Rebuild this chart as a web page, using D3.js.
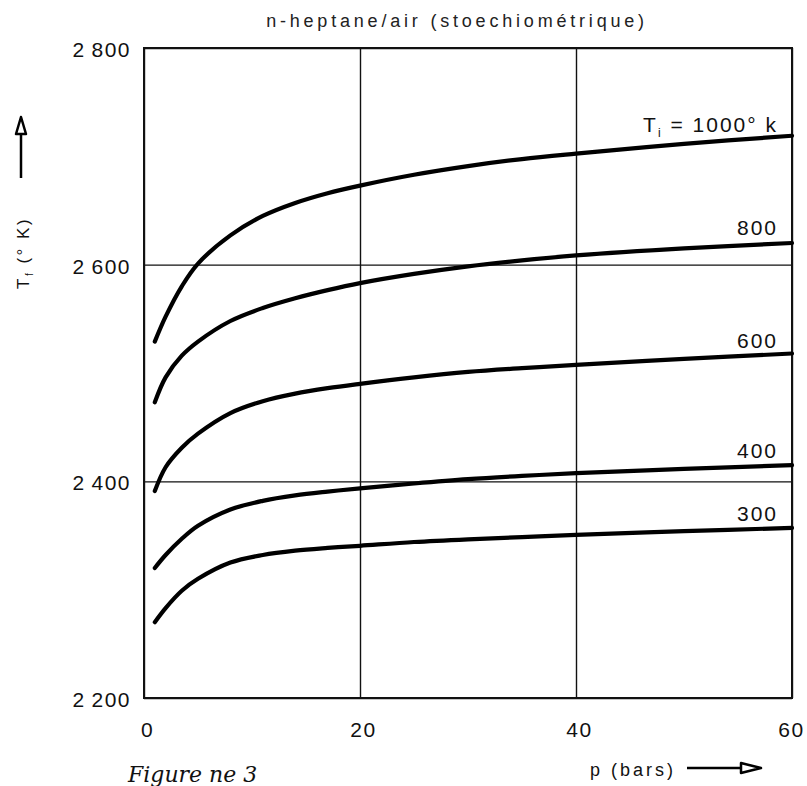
<!DOCTYPE html>
<html>
<head>
<meta charset="utf-8">
<script src="https://cdn.jsdelivr.net/npm/d3@7"></script>
<style>
  body { margin: 0; background: #fff; }
  svg { display: block; font-family: "Liberation Sans", Arial, sans-serif; }
</style>
</head>
<body>
<svg id="svg" width="807" height="786"></svg>
<script>
// pressure in bars
var pressure = [1, 2, 3.5, 5, 8, 11, 14, 17, 20, 25, 30, 35, 40, 50, 60];

// flame temperature Tf (K) for each initial temperature Ti
var tf1000 = [2529, 2552, 2580, 2601, 2627, 2645, 2657, 2666, 2673, 2683, 2691, 2697.5, 2702.5, 2711.5, 2719];
var tf800  = [2473, 2496, 2516, 2529, 2548, 2560, 2569, 2576.5, 2583, 2591.5, 2598.5, 2604, 2608.5, 2615, 2620];
var tf600  = [2391, 2413, 2431, 2444, 2463, 2474, 2481, 2486, 2490, 2496, 2501, 2504.5, 2507.5, 2513, 2518];
var tf400  = [2320, 2332, 2347, 2359, 2374, 2382, 2387, 2390.5, 2393.5, 2398, 2402, 2405, 2407.5, 2411.5, 2415];
var tf300  = [2270, 2283, 2299, 2310, 2325, 2332, 2336, 2338.5, 2340.5, 2344, 2346.5, 2348.5, 2350.5, 2354, 2357];

var curveLabels = ["1000", "800", "600", "400", "300"];
var xTicks = [0, 20, 40, 60];
var yTicks = [2200, 2400, 2600, 2800];

var series = [tf1000, tf800, tf600, tf400, tf300];
var labelLift = [4, 8, 6, 7, 7];

var svg = d3.select("#svg");
var padding = {top: 48, right: 15, bottom: 88, left: 144};
var width = 807 - padding.left - padding.right;
var height = 786 - padding.top - padding.bottom;

var xScale = d3.scaleLinear().domain([0, 60]).range([0, width]);
var yScale = d3.scaleLinear().domain([2200, 2800]).range([height, 0]);

var g = svg.append("g")
    .attr("transform", "translate(" + padding.left + "," + padding.top + ")");

// tick labels written "2 800"
var fmt = d3.formatLocale({decimal: ",", thousands: "\u2009", grouping: [3], currency: ["", ""]}).format(",");

//vertical grid + x labels
var xAxis = g.append("g")
    .attr("transform", "translate(0," + height + ")")
    .call(d3.axisBottom(xScale).tickValues(xTicks).tickSize(-height).tickPadding(24).tickFormat(d3.format("d")));
xAxis.select(".domain").remove();
xAxis.selectAll("line").attr("stroke", "#111").attr("stroke-width", 1.4);
xAxis.selectAll("text")
    .attr("font-size", 21).attr("letter-spacing", 1.5).attr("dx", function(d) { return d === 60 ? -1 : 3; })
    .attr("fill", "#111").attr("font-family", "Liberation Sans, Arial, sans-serif");

//horizontal grid + y labels
var yAxis = g.append("g")
    .call(d3.axisLeft(yScale).tickValues(yTicks).tickSize(-width).tickPadding(13).tickFormat(fmt));
yAxis.select(".domain").remove();
yAxis.selectAll("line").attr("stroke", "#111").attr("stroke-width", 1.4);
yAxis.selectAll("text")
    .attr("font-size", 21).attr("letter-spacing", 1.5).attr("dy", "0.4em")
    .attr("fill", "#111").attr("font-family", "Liberation Sans, Arial, sans-serif");

// frame
g.append("rect")
    .attr("x", 0).attr("y", 0).attr("width", width).attr("height", height)
    .attr("fill", "none").attr("stroke", "#111").attr("stroke-width", 2);

// curves
var line = d3.line()
    .x(function(d, i) { return xScale(pressure[i]); })
    .y(function(d) { return yScale(d); })
    .curve(d3.curveCatmullRom.alpha(0.5));

g.selectAll("path.curve").data(series).enter()
    .append("path")
    .attr("class", "curve")
    .attr("d", line)
    .attr("fill", "none")
    .attr("stroke", "#000")
    .attr("stroke-width", 4.2)
    .attr("stroke-linecap", "round");

// curve labels
series.forEach(function(s, k) {
    var t = g.append("text")
        .attr("x", xScale(60) - 14)
        .attr("y", yScale(s[s.length - 1]) - labelLift[k])
        .attr("text-anchor", "end")
        .attr("font-size", 21)
        .attr("letter-spacing", 2)
        .attr("fill", "#111");
    if (k === 0) {
        t.append("tspan").text("T");
        t.append("tspan").attr("font-size", 12).attr("dy", 5).text("i");
        t.append("tspan").attr("dy", -5).text(" = " + curveLabels[k] + "\u00b0 k");
    } else {
        t.text(curveLabels[k]);
    }
});

// title
svg.append("text")
    .attr("x", 457).attr("y", 27)
    .attr("text-anchor", "middle")
    .attr("font-size", 18).attr("letter-spacing", 3.8)
    .attr("fill", "#222")
    .text("n-heptane/air (stoechiométrique)");

// y axis title + arrow
var yt = svg.append("text")
    .attr("transform", "translate(29,289) rotate(-90)")
    .attr("font-size", 17).attr("letter-spacing", 2.5)
    .attr("fill", "#111");
yt.append("tspan").text("T");
yt.append("tspan").attr("font-size", 10).attr("dy", 4).text("f");
yt.append("tspan").attr("dy", -4).text(" (\u00b0 K)");

svg.append("line").attr("x1", 21).attr("x2", 21).attr("y1", 178).attr("y2", 132)
    .attr("stroke", "#000").attr("stroke-width", 2.5);
svg.append("path").attr("d", "M21,117 L16,134 L26,134 Z")
    .attr("fill", "#fff").attr("stroke", "#000").attr("stroke-width", 2.5).attr("stroke-linejoin", "round");

// x axis title + arrow
svg.append("text")
    .attr("x", 590).attr("y", 776)
    .attr("font-size", 18).attr("letter-spacing", 3)
    .attr("fill", "#111")
    .text("p (bars)");
svg.append("line").attr("x1", 687).attr("x2", 742).attr("y1", 768).attr("y2", 768)
    .attr("stroke", "#000").attr("stroke-width", 2.5);
svg.append("path").attr("d", "M761,768 L741,763 L741,773 Z")
    .attr("fill", "#fff").attr("stroke", "#000").attr("stroke-width", 2.5).attr("stroke-linejoin", "round");

// handwritten note at the bottom edge
svg.append("text")
    .attr("x", 128).attr("y", 782)
    .attr("font-size", 22).attr("font-style", "italic")
    .attr("font-family", "DejaVu Serif, serif")
    .attr("fill", "#111")
    .text("Figure ne 3");
</script>
</body>
</html>
